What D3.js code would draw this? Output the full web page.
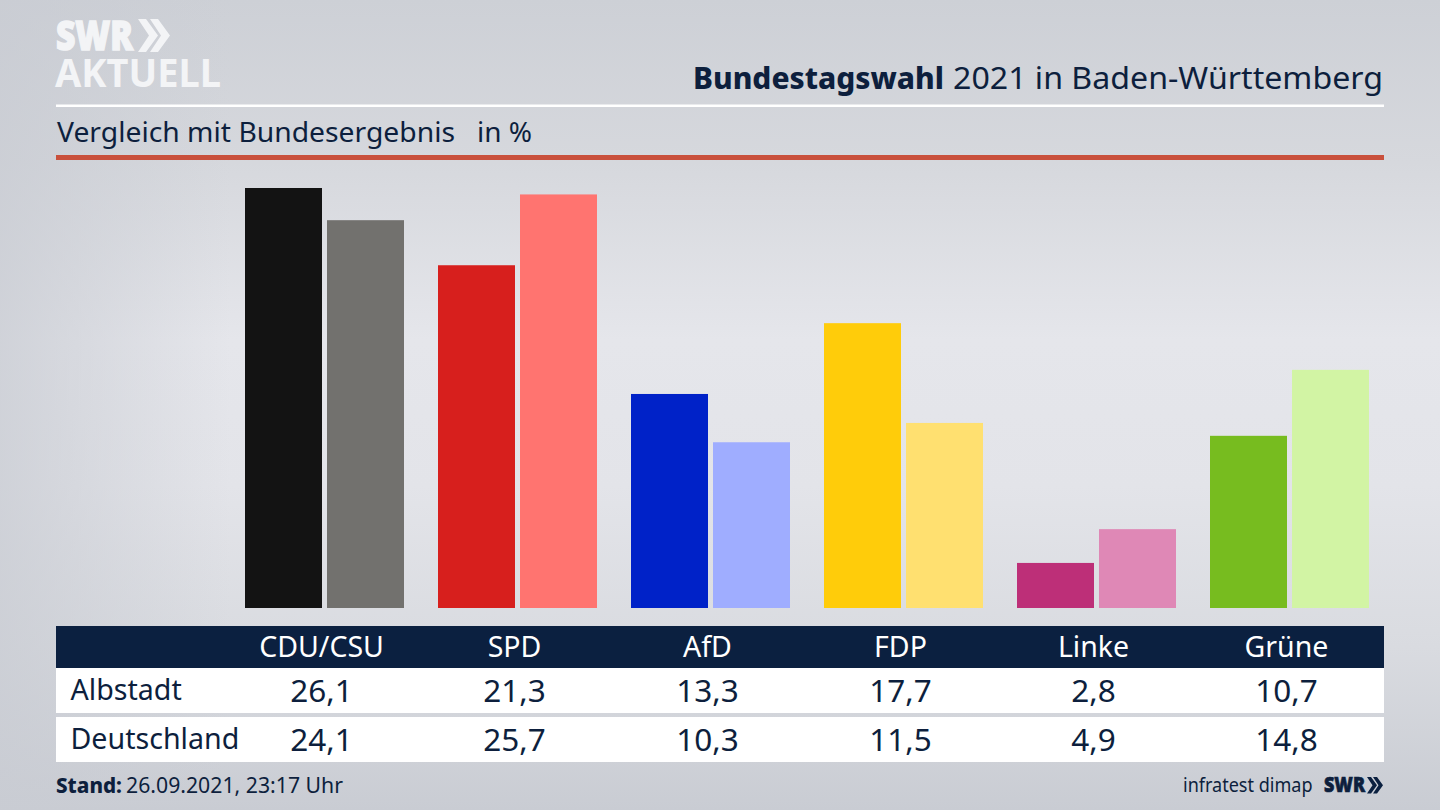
<!DOCTYPE html>
<html>
<head>
<meta charset="utf-8">
<script src="https://cdn.jsdelivr.net/npm/d3@7"></script>
<style>
  html, body { margin: 0; padding: 0; background: #d5d7dd; overflow: hidden; }
  svg { display: block; }
  text { font-family: "Noto Sans", sans-serif; fill: #0d1f3d; }
</style>
</head>
<body>
<div id="chart"></div>
<script>
// values
const parties = ["CDU/CSU", "SPD", "AfD", "FDP", "Linke", "Grüne"];
const albstadt = [26.1, 21.3, 13.3, 17.7, 2.8, 10.7];
const deutschland = [24.1, 25.7, 10.3, 11.5, 4.9, 14.8];
const rowNames = ["Albstadt", "Deutschland"];
const colorsLocal = ["#131313", "#d71f1d", "#0022c8", "#ffcc0a", "#bd2f78", "#77bc1f"];
const colorsFederal = ["#72716e", "#ff7470", "#9fadff", "#ffe070", "#df88b6", "#d2f4a4"];

const navy = "#0b2040";
const fmt = v => String(v.toFixed(1)).replace(".", ",");

const svg = d3.select("#chart").append("svg")
    .attr("width", 1440)
    .attr("height", 810);

// background
const defs = svg.append("defs");
const bg = defs.append("linearGradient").attr("id", "bg")
    .attr("x1", 0).attr("y1", 0).attr("x2", 0).attr("y2", 1);
[[0, "#cdd0d6"], [0.2, "#d6d8dd"], [0.42, "#e5e6eb"], [0.6, "#e3e4e9"], [0.8, "#d9dbe0"], [1, "#c9ccd3"]]
    .forEach(s => bg.append("stop").attr("offset", s[0]).attr("stop-color", s[1]));
const edge = defs.append("linearGradient").attr("id", "edge")
    .attr("x1", 0).attr("y1", 0).attr("x2", 1).attr("y2", 0);
[[0, "#c9ccd3", 0.75], [0.16, "#c9ccd3", 0], [1, "#c9ccd3", 0]]
    .forEach(s => edge.append("stop").attr("offset", s[0]).attr("stop-color", s[1]).attr("stop-opacity", s[2]));
svg.append("rect").attr("width", 1440).attr("height", 810).attr("fill", "url(#bg)");
svg.append("rect").attr("width", 1440).attr("height", 810).attr("fill", "url(#edge)");

// logo
const logo = svg.append("g").attr("fill", "#f3f4f6");
logo.append("text").attr("x", 56).attr("y", 50)
    .attr("font-size", 40).attr("font-weight", 900)
    .attr("textLength", 77).attr("lengthAdjust", "spacingAndGlyphs")
    .style("fill", "#f3f4f6").style("stroke", "#f3f4f6").style("stroke-width", 1.5)
    .text("SWR");
logo.append("text").attr("x", 55).attr("y", 87)
    .attr("font-size", 40).attr("font-weight", 700)
    .attr("textLength", 166).attr("lengthAdjust", "spacingAndGlyphs")
    .style("fill", "#f3f4f6").text("AKTUELL");

function chevrons(g, x, y, s) {
    [0, 12].forEach(dx => {
        g.append("path")
            .attr("transform", `translate(${x + dx * s},${y}) scale(${s})`)
            .attr("d", "M0,0 L8,0 L20,16.5 L8,33 L0,33 L11,16.5 Z");
    });
}
chevrons(logo, 138, 19, 1);

// title
svg.append("text").attr("x", 693).attr("y", 89).attr("font-size", 30).attr("font-weight", 800)
    .attr("textLength", 251).attr("lengthAdjust", "spacingAndGlyphs")
    .text("Bundestagswahl");
svg.append("text").attr("x", 953).attr("y", 89).attr("font-size", 30)
    .attr("textLength", 430).attr("lengthAdjust", "spacingAndGlyphs")
    .text("2021 in Baden-Württemberg");

svg.append("rect").attr("x", 56).attr("y", 104.5).attr("width", 1328).attr("height", 2.5).attr("fill", "#ffffff");

svg.append("text").attr("x", 57).attr("y", 142).attr("font-size", 28)
    .attr("textLength", 398).attr("lengthAdjust", "spacingAndGlyphs")
    .text("Vergleich mit Bundesergebnis");
svg.append("text").attr("x", 477).attr("y", 142).attr("font-size", 28)
    .attr("textLength", 55).attr("lengthAdjust", "spacingAndGlyphs")
    .text("in %");

svg.append("rect").attr("x", 56).attr("y", 155).attr("width", 1328).attr("height", 5).attr("fill", "#c9503c");

// scales
const x = d3.scaleBand()
    .domain(parties)
    .range([228, 1386])
    .paddingInner(34 / 193)
    .paddingOuter(17 / 193);
const inner = d3.scaleBand()
    .domain(["local", "federal"])
    .range([0, x.bandwidth()])
    .paddingInner(5 / 82);
const y = d3.scaleLinear()
    .domain([0, 26.1])
    .range([608, 188]);

// bars
const groups = svg.selectAll("g.party")
    .data(parties)
    .join("g")
    .attr("class", "party")
    .attr("transform", d => `translate(${x(d)},0)`);
groups.append("rect")
    .attr("x", inner("local"))
    .attr("width", inner.bandwidth())
    .attr("y", (d, i) => y(albstadt[i]))
    .attr("height", (d, i) => y(0) - y(albstadt[i]))
    .attr("fill", (d, i) => colorsLocal[i]);
groups.append("rect")
    .attr("x", inner("federal"))
    .attr("width", inner.bandwidth())
    .attr("y", (d, i) => y(deutschland[i]))
    .attr("height", (d, i) => y(0) - y(deutschland[i]))
    .attr("fill", (d, i) => colorsFederal[i]);

// table under the bars
const labelX = d => x(d) + x.bandwidth() / 2 - 3;

svg.append("rect").attr("x", 56).attr("y", 626).attr("width", 1328).attr("height", 42).attr("fill", navy);
svg.append("rect").attr("x", 56).attr("y", 668).attr("width", 1328).attr("height", 45).attr("fill", "#ffffff");
svg.append("rect").attr("x", 56).attr("y", 717).attr("width", 1328).attr("height", 45).attr("fill", "#ffffff");

svg.selectAll("text.head")
    .data(parties)
    .join("text")
    .attr("class", "head")
    .attr("x", labelX)
    .attr("y", 657)
    .attr("text-anchor", "middle")
    .attr("font-size", 28.5)
    .style("fill", "#ffffff")
    .text(d => d);

[albstadt, deutschland].forEach((row, r) => {
    const baseY = r === 0 ? 701 : 750;
    svg.append("text").attr("x", 70.5).attr("y", baseY - 1).attr("font-size", 28.6).text(rowNames[r]);
    svg.selectAll(`text.val${r}`)
        .data(row)
        .join("text")
        .attr("class", `val${r}`)
        .attr("x", (d, i) => labelX(parties[i]))
        .attr("y", baseY + 0.5)
        .attr("text-anchor", "middle")
        .attr("font-size", 31.5)
        .text(fmt);
});

// footer
svg.append("text").attr("x", 56).attr("y", 793).attr("font-size", 21.5).attr("font-weight", 800)
    .attr("textLength", 66).attr("lengthAdjust", "spacingAndGlyphs").text("Stand:");
svg.append("text").attr("x", 126).attr("y", 793).attr("font-size", 21.5)
    .attr("textLength", 217).attr("lengthAdjust", "spacingAndGlyphs").text("26.09.2021, 23:17 Uhr");

// squeezed with a transform so the text box stays clear of the logo
svg.append("text").attr("transform", "translate(1183,792) scale(0.88,1)")
    .attr("font-size", 20.5).text("infratest dimap");

const swr = svg.append("g").attr("fill", navy);
swr.append("text").attr("x", 1324).attr("y", 792).attr("font-size", 21).attr("font-weight", 900)
    .attr("textLength", 41).attr("lengthAdjust", "spacingAndGlyphs")
    .style("stroke", "#0d1f3d").style("stroke-width", 0.7).text("SWR");
chevrons(swr, 1367, 777, 0.5);
</script>
</body>
</html>
